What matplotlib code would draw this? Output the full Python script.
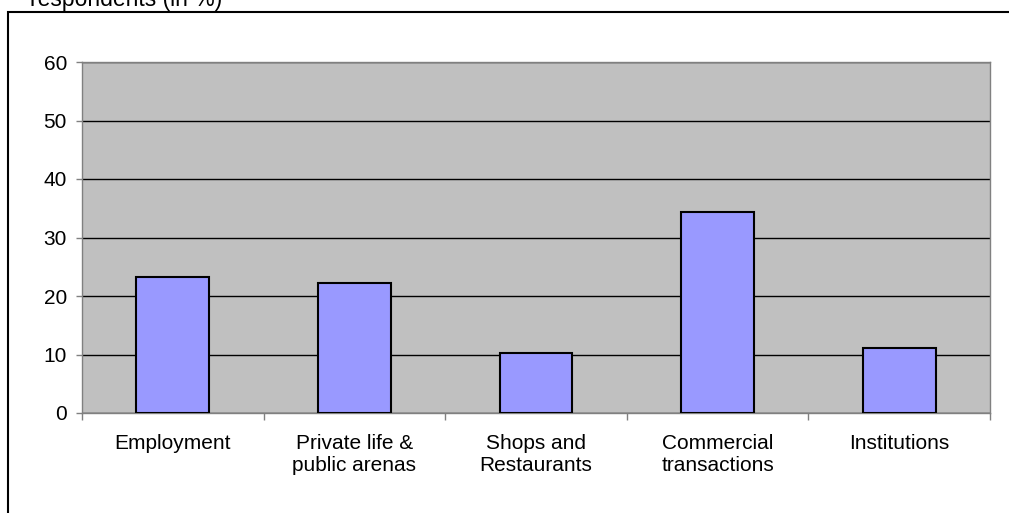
import matplotlib
matplotlib.use("Agg")
import matplotlib.pyplot as plt
from matplotlib.patches import Rectangle
import numpy as np

plt.rcParams['font.family'] = ['Liberation Sans', 'DejaVu Sans']

categories = ["Employment", "Private life &\npublic arenas", "Shops and\nRestaurants",
              "Commercial\ntransactions", "Institutions"]
values = [23.2, 22.2, 10.3, 34.4, 11.1]
yticks = [0, 10, 20, 30, 40, 50, 60]
title = "respondents (in %)"

W, H = 1009, 513
fig = plt.figure(figsize=(W / 100, H / 100), dpi=100)
fig.patch.set_facecolor("white")

# outer frame
fig.patches.append(Rectangle((8 / W, -0.05), 1.1, (H - 12) / H + 0.05,
                             transform=fig.transFigure, fill=False,
                             edgecolor="black", linewidth=1.5, clip_on=False))
fig.text(30 / W, (H - 6) / H, title, fontsize=16.5, va="baseline", ha="left")

ax = fig.add_axes([82 / W, (H - 413) / H, (990 - 82) / W, (413 - 62) / H])
ax.set_facecolor("#C0C0C0")
x = np.arange(len(categories))
ax.bar(x, values, width=0.4, color="#9999FF", edgecolor="black", linewidth=1.5, zorder=3)

ax.set_xlim(-0.5, len(categories) - 0.5)
ax.set_ylim(0, 60)
ax.set_yticks(yticks)
ax.set_yticklabels([str(t) for t in yticks], fontsize=15)
ax.yaxis.grid(True, color="black", linewidth=1.0, zorder=1)
ax.set_axisbelow(True)

ax.set_xticks(x)
ax.set_xticklabels(categories, fontsize=15, linespacing=1.2)
ax.set_xticks(np.arange(len(categories) + 1) - 0.5, minor=True)
ax.tick_params(axis="x", which="major", length=0, pad=15)
ax.tick_params(axis="x", which="minor", length=5, color="#808080", width=1)
ax.tick_params(axis="y", length=4.3, color="#808080", width=1, pad=6.5)

for s in ax.spines.values():
    s.set_color("#808080")
    s.set_linewidth(1.0)

fig.savefig("out.png", dpi=100)
